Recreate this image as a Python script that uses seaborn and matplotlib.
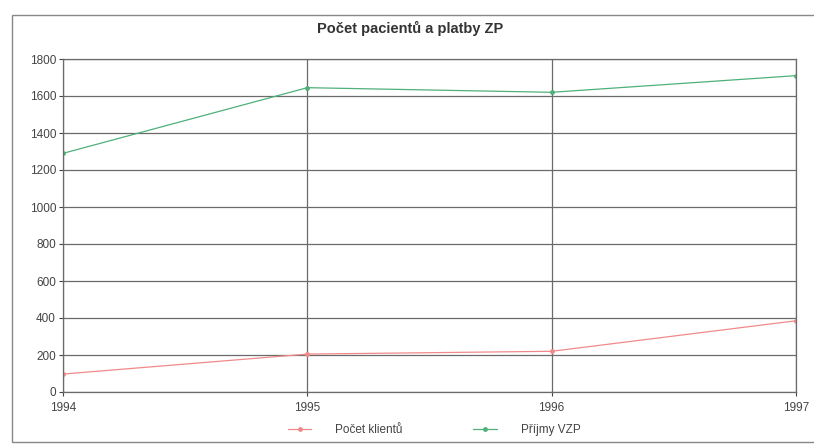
import matplotlib
matplotlib.use("Agg")
import matplotlib.pyplot as plt
import seaborn as sns
import pandas as pd
from matplotlib.patches import Rectangle

years = [1994, 1995, 1996, 1997]
pocet_klientu = [97, 205, 220, 385]
prijmy_vzp = [1290, 1645, 1620, 1710]
y_ticks = [0, 200, 400, 600, 800, 1000, 1200, 1400, 1600, 1800]
series_names = ["Počet klientů", "Příjmy VZP"]

df = pd.DataFrame({
    "rok": years * 2,
    "hodnota": pocet_klientu + prijmy_vzp,
    "serie": [series_names[0]] * 4 + [series_names[1]] * 4,
})

sns.set_theme(style="white")
plt.rcParams["font.family"] = ["Liberation Sans", "DejaVu Sans"]

fig = plt.figure(figsize=(8.14, 4.45), dpi=100)
ax = fig.add_axes([63 / 814, 1 - 392 / 445, (796 - 63) / 814, (392 - 59) / 445])

palette = {series_names[0]: "#f08a8a", series_names[1]: "#4fb07a"}
sns.lineplot(data=df, x="rok", y="hodnota", hue="serie", palette=palette,
             marker="o", markersize=3.5, markeredgewidth=0, linewidth=0.9,
             ax=ax, legend=True)

ax.set_xlim(1994, 1997)
ax.set_ylim(0, 1800)
ax.set_yticks(y_ticks)
ax.set_xticks(years)
ax.set_xticklabels([str(y) for y in years])
ax.set_xlabel("")
ax.set_ylabel("")
ax.grid(True, color="#6a6a6a", linewidth=0.9)
ax.set_axisbelow(True)
for s in ax.spines.values():
    s.set_color("#6a6a6a")
    s.set_linewidth(0.9)
ax.tick_params(axis="both", labelsize=8.5, colors="#444444", length=3, width=0.8,
               left=True, bottom=True)
ax.tick_params(axis="y", pad=2)
ax.tick_params(axis="x", pad=4)

fig.text(410 / 814, 1 - 28 / 445, "Počet pacientů a platby ZP", ha="center", va="center",
         fontsize=10.5, fontweight="bold", color="#333333")

handles, labels = ax.get_legend_handles_labels()
ax.legend(handles, labels, loc="center", bbox_to_anchor=(434 / 814, 1 - 430 / 445),
          bbox_transform=fig.transFigure, ncol=2, frameon=False, fontsize=8.5,
          handlelength=2.0, handletextpad=2.0, columnspacing=6.0, labelcolor="#444444")

fig.patches.append(Rectangle((12 / 814, 1 - 442 / 445), 805 / 814, (442 - 15) / 445,
                             transform=fig.transFigure, fill=False,
                             edgecolor="#888888", linewidth=1.0))

fig.savefig("out.png", dpi=100, facecolor="white")
